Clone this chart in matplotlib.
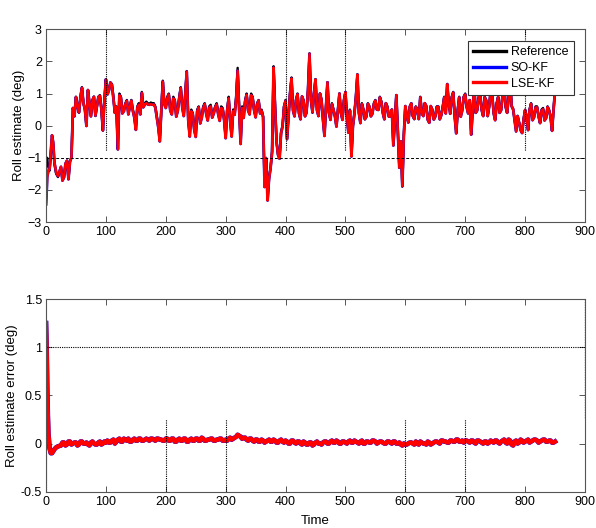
import numpy as np
import matplotlib
matplotlib.use("Agg")
from matplotlib import pyplot as plt

plt.rcParams['font.family'] = ['Liberation Sans', 'DejaVu Sans']

# time axis: finer at the start, then every 5 samples plus the half-way samples
t_early = [0, 1, 2, 3, 4, 6, 8, 10, 12, 14, 17, 20]
t_main = list(np.arange(25, 851, 5))
t_mid = list(np.arange(27.5, 850, 5))

ref_early = [-1.2, -1.1, -1.0, -1.2, -1.3, -1.4, -0.9, -0.4, -0.6, -1.2, -1.5, -1.6]
ref_main = [
    -1.3, -1.6, -1.1, -1.1, 0.55, 0.9, 0.4, 1.2, 0.5, 1.1,
    0.3, 0.9, 0.6, 0.95, -0.15, 1.45, 1.1, 1.3, 0.4, -0.7,
    0.9, 0.5, 0.8, 0.6, 0.5, -0.1, 0.7, 1.05, 0.7, 0.7,
    0.72, 0.7, 0.3, -0.45, 1.4, 0.6, 1.0, 0.4, 0.8, 0.5,
    1.2, 0.35, 1.7, -0.3, 0.4, -0.3, 0.6, 0.3, 0.7, 0.2,
    0.65, 0.4, 0.7, 0.2, 0.55, -0.35, 0.9, -0.3, 0.4, 1.8,
    -0.5, 0.3, 1.0, 0.4, 0.9, 0.3, 0.8, 0.5, -1.9, -2.3,
    -1.3, 1.85, -0.5, -1.0, 0.0, 0.8, 0.3, 1.5, 0.3, 1.0,
    0.2, 0.8, 0.4, 2.25, 0.4, 1.45, 0.3, 0.8, -0.3, 1.35,
    0.2, 0.5, 0.0, 1.0, 0.2, 1.05, -0.2, -0.95, 0.4, 1.6,
    0.1, 0.5, 0.3, 0.6, 0.4, 0.8, 0.5, 0.75, 0.2, 0.6,
    0.3, -0.6, 0.95, -1.3, -1.9, 0.6, 0.1, 0.7, 0.2, 0.5,
    0.9, 0.3, 0.6, 0.1, 0.5, 0.3, 0.6, 0.35, 0.9, 1.3,
    0.4, 1.05, -0.2, 0.9, 0.5, 1.0, 0.4, -0.25, 1.3, 0.5,
    1.0, 0.3, 0.8, 0.6, 1.0, 0.2, 0.9, 0.5, 1.3, 0.4,
    1.5, 0.5, -0.15, 0.1, -0.2, 0.5, -0.1, 0.7, 0.3, 0.6,
    0.1, 0.55, 0.25, 0.5, -0.15, 1.1,
]
ref_mid = [
    -1.7, -1.2, -1.65, -1.0, 0.3, 0.6, 0.9, 0.7, 0.0, 0.7,
    0.8, 0.3, 0.9, 0.5, 0.8, 1.0, 1.35, 0.9, 0.6, 1.0,
    0.4, 0.7, 0.4, 0.8, 0.3, 0.6, 0.4, 0.6, 0.75, 0.68,
    0.7, 0.6, 0.0, 0.5, 0.7, 0.9, 0.5, 0.9, 0.3, 0.9,
    0.6, 1.0, 0.2, 0.5, -0.1, 0.5, 0.1, 0.6, 0.4, 0.6,
    0.3, 0.6, 0.4, 0.6, 0.2, 0.5, 0.2, 0.5, 0.9, 0.6,
    0.6, 0.8, 0.5, 1.0, 0.5, 0.7, 0.4, 0.3, -1.0, -1.6,
    -0.8, 0.6, -0.9, -0.2, 0.6, -0.4, 1.0, 0.5, 0.8, 0.4,
    0.9, 0.3, 1.1, 0.8, 1.0, 0.5, 1.0, 0.2, 0.6, 0.4,
    0.7, 0.3, 0.5, 0.4, 0.8, 0.3, 0.5, 0.0, 0.9, 0.4,
    0.7, 0.2, 0.7, 0.3, 0.7, 0.5, 0.9, 0.4, 0.7, 0.3,
    0.5, 0.2, -0.2, -0.5, -0.3, 0.3, 0.6, 0.3, 0.6, 0.2,
    0.4, 0.7, 0.2, 0.6, 0.2, 0.6, 0.2, 0.6, 0.4, 0.7,
    0.9, 0.3, 0.5, 0.3, 0.9, 0.6, 0.8, 0.5, 0.4, 0.9,
    0.5, 0.9, 0.3, 1.1, 0.4, 0.7, 0.4, 1.0, 0.6, 0.9,
    0.6, 0.2, 0.3, -0.1, 0.2, 0.3, 0.5, 0.2, 0.6, 0.3,
    0.5, 0.2, 0.6, 0.3, 0.5,
]

# estimate error = reference - estimate
err_early = [1.25, 1.0, 0.6, 0.3, 0.1, -0.05, -0.1, -0.1, -0.08, -0.06, -0.04, -0.03]
err_main = [
    -0.02, 0.01, -0.01, 0.02, 0.0, 0.01, -0.01, 0.02, 0.0, -0.01, 0.01, 0.0, -0.01, 0.02, 0.0, 0.01,
    0.01, 0.03, 0.0, 0.04, 0.02, 0.05, 0.03, 0.02, 0.04, 0.03, 0.05, 0.03, 0.04, 0.04, 0.05, 0.04, 0.05, 0.04, 0.03, 0.05,
    0.03, 0.05, 0.02, 0.04, 0.03, 0.05, 0.02, 0.04, 0.03, 0.05, 0.03, 0.06, 0.03, 0.04, 0.05, 0.03, 0.04, 0.05, 0.03, 0.04,
    0.05, 0.04, 0.06, 0.09, 0.07, 0.06, 0.04, 0.05, 0.03, 0.04, 0.02, 0.04, 0.01, 0.03, 0.02, 0.04, 0.01, 0.03, 0.02, 0.03,
    0.0, 0.03, 0.01, 0.02, 0.0, 0.02, -0.01, 0.01, -0.02, 0.01, 0.0, -0.01, 0.02, 0.0, 0.02, 0.01, 0.03, 0.0, 0.02, 0.01,
    0.02, 0.01, 0.03, 0.01, 0.02, 0.0, 0.02, 0.01, 0.03, 0.02, 0.01, 0.02, 0.0, 0.02, 0.01, 0.02, 0.0, 0.01, -0.02, -0.01,
    0.0, 0.01, -0.01, 0.0, 0.02, 0.0, -0.01, 0.01, 0.0, 0.02, 0.01, 0.03, 0.02, 0.01, 0.03, 0.02, 0.04, 0.02, 0.03, 0.03,
    0.02, 0.03, 0.01, 0.03, 0.02, 0.0, 0.02, 0.01, 0.02, 0.03, 0.01, 0.02, 0.04, 0.0, 0.03, -0.02, 0.03, 0.01, 0.03, 0.02,
    0.04, 0.02, 0.04, 0.03, 0.02, 0.04, 0.02, 0.03, 0.01, 0.02,
]
err_mid = [
    0.01, -0.02, 0.02, -0.01, 0.01, -0.02, 0.02, 0.0, 0.01, -0.02, 0.02, -0.01, 0.01, -0.01, 0.02,
    0.03, 0.01, 0.04, 0.02, 0.05, 0.02, 0.04, 0.05, 0.02, 0.05, 0.03, 0.05, 0.03, 0.05, 0.03, 0.05, 0.03, 0.05, 0.04, 0.03,
    0.05, 0.03, 0.05, 0.02, 0.05, 0.03, 0.05, 0.02, 0.05, 0.03, 0.05, 0.03, 0.05, 0.03, 0.04, 0.05, 0.03, 0.04, 0.05, 0.03,
    0.03, 0.06, 0.05, 0.07, 0.08, 0.05, 0.06, 0.03, 0.05, 0.02, 0.04, 0.02, 0.03, 0.02, 0.04, 0.02, 0.03, 0.01, 0.04, 0.01,
    0.02, 0.0, 0.03, 0.0, 0.02, -0.01, 0.01, -0.01, 0.01, -0.01, 0.02, 0.0, 0.01, 0.02, 0.0, 0.03, 0.01, 0.02, 0.0, 0.02,
    0.0, 0.03, 0.01, 0.02, 0.0, 0.03, 0.0, 0.02, 0.01, 0.03, 0.0, 0.02, 0.01, 0.0, 0.02, 0.0, 0.02, 0.0, -0.01, 0.0,
    -0.01, 0.01, 0.0, 0.02, -0.01, 0.01, 0.0, 0.02, -0.01, 0.01, 0.02, 0.0, 0.03, 0.02, 0.01, 0.03, 0.02, 0.04, 0.02, 0.01,
    0.03, 0.01, 0.03, 0.0, 0.03, 0.01, 0.02, 0.0, 0.03, 0.01, 0.03, 0.0, 0.03, 0.01, 0.04, -0.01, 0.02, 0.0, 0.04, 0.01,
    0.03, 0.01, 0.03, 0.04, 0.01, 0.03, 0.04, 0.02, 0.03, 0.01,
]

t = np.array(t_early + t_main + t_mid, dtype=float)
ref = np.array(ref_early + ref_main + ref_mid)
err = np.array(err_early + err_main + err_mid)
order = np.argsort(t, kind="stable")
t, ref, err = t[order], ref[order], err[order]
est = ref - err

fig = plt.figure(figsize=(5.96, 5.28), dpi=100)
ax1 = fig.add_axes([0.0772, 0.5795, 0.9043, 0.365])
ax2 = fig.add_axes([0.0772, 0.0688, 0.9043, 0.3649])

spine_c = "#555555"

ax1.plot(t, ref, color="black", lw=1.7, label="Reference")
ax1.plot(t, est, color="blue", lw=2.0, label="SO-KF")
ax1.plot(t, est, color="red", lw=1.8, label="LSE-KF")
ax1.axhline(-1, color="black", ls=(0, (3, 2)), lw=0.7)
ax1.axhline(3, color="black", ls=(0, (3, 2)), lw=0.7)
for xv in [100, 400, 500, 800]:
    ax1.plot([xv, xv], [3, -0.8], color="black", ls=(0, (1, 1)), lw=0.8)
ax1.set_xlim(0, 900)
ax1.set_ylim(-3, 3)
ax1.set_yticks(range(-3, 4))
ax1.set_ylabel("Roll estimate (deg)", fontsize=9.5, labelpad=2)
leg = ax1.legend(loc="upper right", bbox_to_anchor=(0.9796, 0.941), fontsize=9,
                 fancybox=False, framealpha=1, edgecolor="#333333",
                 handlelength=2.6, handletextpad=0.4, borderpad=0.45,
                 labelspacing=0.3, borderaxespad=0)
for h in leg.get_lines():
    h.set_linewidth(2.4)
leg.get_frame().set_linewidth(0.8)

ax2.plot(t, err, color="blue", lw=3.4)
ax2.plot(t, err, color="red", lw=3.1)
ax2.axhline(1, color="black", ls=(0, (1, 1)), lw=0.8)
for xv in [0, 200, 300, 600, 700]:
    ax2.plot([xv, xv], [-0.5, 0.25], color="black", ls=(0, (1, 1)), lw=0.8)
ax2.plot([900, 900], [1.5, 0.25], color="black", ls=(0, (1, 1)), lw=0.9)
ax2.set_xlim(0, 900)
ax2.set_ylim(-0.5, 1.5)
ax2.set_yticks([-0.5, 0, 0.5, 1, 1.5])
ax2.set_yticklabels(["-0.5", "0", "0.5", "1", "1.5"])
ax2.set_ylabel("Roll estimate error (deg)", fontsize=9.5, labelpad=2)
ax2.set_xlabel("Time", fontsize=9.5, labelpad=5)

for ax in (ax1, ax2):
    ax.set_xticks(range(0, 901, 100))
    ax.tick_params(direction="in", top=True, right=True, labelsize=9,
                   length=4, width=0.7, color=spine_c, pad=3)
    for s in ax.spines.values():
        s.set_color(spine_c)
        s.set_linewidth(0.8)

fig.savefig("out.png", dpi=100)
